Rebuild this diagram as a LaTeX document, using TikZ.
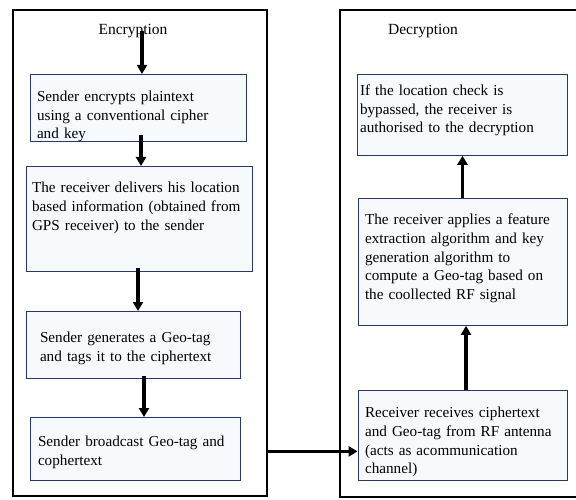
\documentclass[tikz,border=0pt]{standalone}
\usepackage{fontspec}
\setmainfont{Liberation Serif}
\usetikzlibrary{arrows.meta}
\definecolor{boxline}{HTML}{26386E}
\definecolor{boxfill}{HTML}{F7FAFD}
\begin{document}
\begin{tikzpicture}[x=1pt, y=-1pt,
    frame/.style={draw, line width=2.6pt, inner sep=0pt},
    stepbox/.style={draw=boxline, fill=boxfill, line width=0.8pt, anchor=north, align=left, inner ysep=0pt,
        font=\fontsize{15.2}{18.8}\selectfont},
    title/.style={font=\fontsize{15.5}{18.8}\selectfont},
    flow/.style={line width=3.2pt, -{Triangle[length=9pt, width=10pt]}}]
    \useasboundingbox (0,0) rectangle (576,500);
    % outer frames
    \node[frame, minimum width=254pt, minimum height=486pt] (encframe) at (140,253) {};
    \node[frame, minimum width=250pt, minimum height=487pt] (decframe) at (465,253.5) {};
    \node[title] (enctitle) at (133,31) {Encryption};
    \node[title] (dectitle) at (423,31) {Decryption};
    % encryption side
    \node[stepbox, inner xsep=7pt, text width=202pt, text height=27pt, text depth=40pt] (enc1) at (138,74)
        {Sender encrypts plaintext\\ using a conventional cipher\\ and key};
    \node[stepbox, inner xsep=6pt, text width=214pt, text height=26pt, text depth=79pt] (enc2) at (139,166)
        {The receiver delivers his location\\ based information (obtained from\\ GPS receiver) to the sender};
    \node[stepbox, inner xsep=14pt, text width=186pt, text height=31pt, text depth=36pt] (enc3) at (133,311)
        {Sender generates a Geo-tag\\ and tags it to the ciphertext};
    \node[stepbox, inner xsep=8pt, text width=194pt, text height=29pt, text depth=34pt] (enc4) at (135,417)
        {Sender broadcast Geo-tag and\\ cophertext};
    % decryption side
    \node[stepbox, inner xsep=3pt, text width=204pt, text height=21pt, text depth=60pt] (decA) at (462,74)
        {If the location check is\\ bypassed, the receiver is\\ authorised to the decryption};
    \node[stepbox, inner xsep=7pt, text width=195pt, text height=26pt, text depth=101pt] (decB) at (462.5,198)
        {The receiver applies a feature\\ extraction algorithm and key\\ generation algorithm to\\ compute a Geo-tag based on\\ the coollected RF signal};
    \node[stepbox, inner xsep=7pt, text width=195pt, text height=27pt, text depth=63pt] (decC) at (462.5,390)
        {Receiver receives ciphertext\\ and Geo-tag from RF antenna\\ (acts as acommunication\\ channel)};
    % arrows
    \draw[flow] ([xshift=9pt]enctitle.center) -- ([xshift=9pt]enctitle.center |- enc1.north);
    \draw[flow] ([xshift=3pt,yshift=7pt]enc1.south) -- ([xshift=3pt]enc1.south |- enc2.north);
    \draw[flow] ([xshift=-1pt,yshift=4pt]enc2.south) -- ([xshift=-1pt]enc2.south |- enc3.north);
    \draw[flow] ([xshift=11pt,yshift=3pt]enc3.south) -- ([xshift=11pt]enc3.south |- enc4.north);
    \draw[flow] ([xshift=3.5pt]decC.north) -- ([xshift=3.5pt]decC.north |- decB.south);
    \draw[flow] (decB.north) -- (decB.north |- decA.south);
    \coordinate (sendpt) at ([yshift=-16pt]decC.west);
    \draw[flow] (encframe.east |- sendpt) -- (sendpt);
\end{tikzpicture}
\end{document}
